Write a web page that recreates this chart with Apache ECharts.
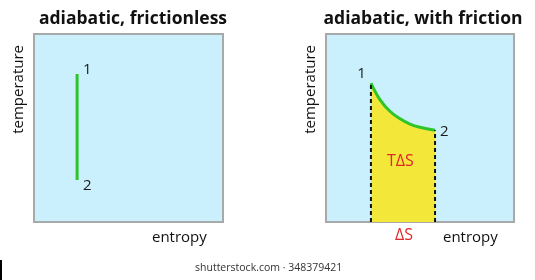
<!DOCTYPE html>
<html>
<head>
<meta charset="utf-8">
<script src="https://cdn.jsdelivr.net/npm/echarts@6/dist/echarts.min.js"></script>
<style>
  html, body { margin: 0; padding: 0; background: #fff; }
  #chart { width: 535px; height: 280px; }
</style>
</head>
<body>
<div id="chart"></div>
<script>
// left panel: isentropic line (entropy, temperature)
const leftS = [22.8, 22.8];
const leftT = [78.7, 22.3];

// right panel: curve with friction
const rightS = [23.9, 28.7, 34.0, 39.4, 44.7, 50.0, 58.0];
const rightT = [73.9, 65.1, 58.9, 54.9, 52.1, 50.4, 48.8];

const pointLabels = ['1', '2'];
const titles = ['adiabatic, frictionless', 'adiabatic, with friction'];

const FONT = '"Open Sans", "Noto Sans", sans-serif';
const GREEN = '#2fc42a';
const RED = '#e3262a';

const chart = echarts.init(document.getElementById('chart'));

function pts(xs, ys) {
  return xs.map((x, i) => [x, ys[i]]);
}

// only the first and last point get a label ("1" and "2")
function withEndLabels(xs, ys, labs) {
  const d = pts(xs, ys);
  return d.map((p, i) => {
    if (i === 0) return { value: p, label: Object.assign({ show: true, formatter: pointLabels[0] }, labs[0]) };
    if (i === d.length - 1) return { value: p, label: Object.assign({ show: true, formatter: pointLabels[1] }, labs[1]) };
    return p;
  });
}

const axis = (gi) => ({
  gridIndex: gi, type: 'value', min: 0, max: 100,
  axisLine: { show: false }, axisTick: { show: false },
  axisLabel: { show: false }, splitLine: { show: false }
});

const ptLabel = { show: false, color: '#1a1a1a', fontSize: 15, fontFamily: FONT };
const dash = { color: '#111', width: 2, type: [4, 3] };

chart.setOption({
  animation: false,
  title: [
    { text: titles[0], left: 128, top: 5, textAlign: 'center',
      textStyle: { fontSize: 17.5, fontWeight: 'bold', fontFamily: FONT, color: '#111' } },
    { text: titles[1], left: 418, top: 5, textAlign: 'center',
      textStyle: { fontSize: 17.5, fontWeight: 'bold', fontFamily: FONT, color: '#111' } }
  ],
  grid: [
    { left: 34, top: 34, width: 189, height: 188, show: true,
      backgroundColor: '#c9f0fc', borderColor: '#a9a9a9', borderWidth: 2 },
    { left: 326, top: 34, width: 188, height: 188, show: true,
      backgroundColor: '#c9f0fc', borderColor: '#a9a9a9', borderWidth: 2 }
  ],
  xAxis: [axis(0), axis(1)],
  yAxis: [axis(0), axis(1)],
  series: [
    {
      type: 'line', xAxisIndex: 0, yAxisIndex: 0,
      data: withEndLabels(leftS, leftT, [
        { position: 'right', offset: [1, -4] },
        { position: 'right', offset: [1, 6] }
      ]),
      showSymbol: true, symbol: 'circle', symbolSize: 0,
      lineStyle: { color: GREEN, width: 3 },
      label: ptLabel
    },
    {
      type: 'line', xAxisIndex: 1, yAxisIndex: 1,
      data: withEndLabels(rightS, rightT, [
        { position: 'left', offset: [0, -9] },
        { position: 'right', offset: [0, 1] }
      ]),
      smooth: 0.4, showSymbol: true, showAllSymbol: true, symbol: 'circle', symbolSize: 0,
      lineStyle: { color: GREEN, width: 3 },
      areaStyle: { color: '#f3e83a', opacity: 1, origin: 'start' },
      label: ptLabel, z: 3
    },
    {
      // dashed bounds of the area
      type: 'line', xAxisIndex: 1, yAxisIndex: 1,
      data: [[rightS[0], 0], [rightS[0], rightT[0]]],
      symbol: 'none', lineStyle: dash, z: 4
    },
    {
      type: 'line', xAxisIndex: 1, yAxisIndex: 1,
      data: [[rightS[rightS.length - 1], 0], [rightS[rightS.length - 1], rightT[rightT.length - 1]]],
      symbol: 'none', lineStyle: dash, z: 4
    }
  ],
  graphic: [
    { type: 'text', left: 11, top: 45, rotation: Math.PI / 2, z: 100,
      style: { text: 'temperature', fontSize: 15, fontFamily: FONT, fill: '#111' } },
    { type: 'text', left: 303, top: 45, rotation: Math.PI / 2, z: 100,
      style: { text: 'temperature', fontSize: 15, fontFamily: FONT, fill: '#111' } },
    { type: 'text', left: 152, top: 230, z: 100,
      style: { text: 'entropy', fontSize: 15, fontFamily: FONT, fill: '#111' } },
    { type: 'text', left: 443, top: 230, z: 100,
      style: { text: 'entropy', fontSize: 15, fontFamily: FONT, fill: '#111' } },
    { type: 'text', left: 395, top: 227, z: 100,
      style: { text: 'ΔS', fontSize: 16, fontFamily: FONT, fill: RED } },
    { type: 'text', left: 387, top: 153, z: 100,
      style: { text: 'TΔS', fontSize: 16, fontFamily: FONT, fill: RED } },
    { type: 'text', left: 195, top: 263, z: 100,
      style: { text: 'shutterstock.com · 348379421', fontSize: 10.5, fontFamily: FONT, fill: '#333' } },
    { type: 'rect', left: 0, top: 260, z: 100, shape: { width: 2, height: 20 }, style: { fill: '#000' } }
  ]
});
</script>
</body>
</html>
